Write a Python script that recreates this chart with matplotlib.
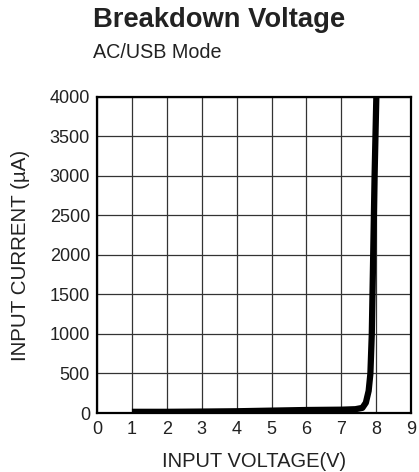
import matplotlib.pyplot as plt

plt.rcParams['font.family'] = ['Liberation Sans', 'DejaVu Sans']

# curve
voltage = [1.0, 2.0, 3.0, 4.0, 5.0, 6.0, 7.0, 7.4, 7.6, 7.7, 7.78, 7.83, 7.87, 7.91, 7.95, 8.0]
current = [15, 15, 18, 22, 30, 38, 42, 48, 65, 130, 280, 500, 1000, 2000, 3000, 4000]

x_ticks = list(range(0, 10))
y_ticks = list(range(0, 4001, 500))

fig = plt.figure(figsize=(4.19, 4.72), dpi=100)
ax = fig.add_axes([0.2315, 0.125, 0.75, 0.6695])

ax.plot(voltage, current, color='black', linewidth=4.5, solid_capstyle='butt', zorder=3)

ax.set_xlim(0, 9)
ax.set_ylim(0, 4000)
ax.set_xticks(x_ticks)
ax.set_yticks(y_ticks)
ax.tick_params(length=0, labelsize=13, colors='#222222')
ax.tick_params(axis='x', pad=6)
ax.tick_params(axis='y', pad=5)
ax.grid(True, color='#333333', linewidth=0.9)
for s in ax.spines.values():
    s.set_linewidth(1.6)
    s.set_color('black')

ax.set_xlabel('INPUT VOLTAGE(V)', fontsize=14.5, color='#222222', labelpad=10)
ax.set_ylabel('INPUT CURRENT (µA)', fontsize=14.8, color='#222222', labelpad=14)

fig.text(0.222, 1 - 27 / 472, 'Breakdown Voltage', fontsize=19.7, fontweight='bold', color='#222222')
fig.text(0.222, 1 - 58 / 472, 'AC/USB Mode', fontsize=14.2, color='#222222')

fig.savefig('out.png', dpi=100)
